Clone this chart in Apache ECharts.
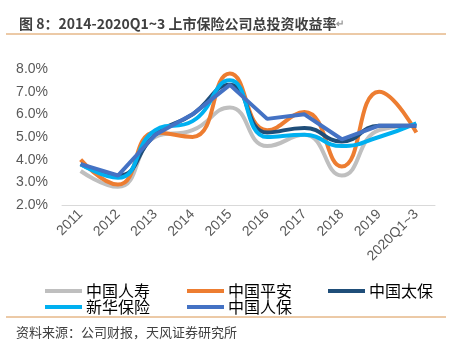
<!DOCTYPE html>
<html>
<head>
<meta charset="utf-8">
<script src="https://cdn.jsdelivr.net/npm/echarts@6/dist/echarts.min.js"></script>
<style>
  html, body { margin: 0; padding: 0; background: #fff; }
  #chart { width: 467px; height: 351px; }
</style>
</head>
<body>
<div id="chart"></div>
<script>
// categories and series (investment yield, %)
const years = ['2011', '2012', '2013', '2014', '2015', '2016', '2017', '2018', '2019', '2020Q1~3'];
const chinaLife = [3.5, 2.8, 5.0, 5.3, 6.3, 4.6, 5.1, 3.3, 5.3, 5.5];
const pingAn = [4.0, 2.9, 5.2, 5.0, 7.8, 5.3, 6.1, 3.7, 7.0, 5.2];
const cpic = [3.8, 3.3, 5.1, 6.0, 7.3, 5.2, 5.4, 4.8, 5.5, 5.5];
const newChina = [3.8, 3.2, 5.3, 5.7, 7.5, 5.0, 5.1, 4.6, 5.0, 5.6];
const picc = [3.8, 3.3, 5.1, 6.0, 7.3, 5.8, 6.0, 4.9, 5.5, 5.5];
const yTicks = [2, 3, 4, 5, 6, 7, 8];

const names = ['中国人寿', '中国平安', '中国太保', '新华保险', '中国人保'];
const colors = ['#BFBFBF', '#ED7D31', '#1F4E79', '#00B0F0', '#4472C4'];
const values = [chinaLife, pingAn, cpic, newChina, picc];

const chart = echarts.init(document.getElementById('chart'));

// one legend per item so they sit on the 3-column grid of the original
const legendPos = [[40, 278], [182, 278], [323, 278], [40, 294], [182, 294]];
const legends = names.map((n, i) => ({
  data: [n],
  left: legendPos[i][0],
  top: legendPos[i][1],
  icon: 'rect',
  itemWidth: 37,
  itemHeight: 4,
  itemGap: 0,
  selectedMode: false,
  textStyle: {
    fontSize: 16,
    color: '#000',
    padding: [0, 0, 0, -1],
    fontFamily: 'Noto Sans CJK SC',
  },
}));

const series = names.map((n, i) => ({
  name: n,
  type: 'line',
  data: values[i],
  smooth: i === 4 ? false : 0.5,
  symbol: 'none',
  lineStyle: { width: 4, color: colors[i] },
  itemStyle: { color: colors[i] },
}));

const option = {
  animation: false,
  title: {
    text: '{t|图 8：2014-2020Q1~3 上市保险公司总投资收益率}{m|↵}',
    left: 14,
    top: 12,
    textStyle: {
      rich: {
        t: { fontSize: 14, fontWeight: 'bold', color: '#404040', fontFamily: 'Noto Sans CJK SC' },
        m: { fontSize: 10, color: '#999' },
      },
    },
  },
  legend: legends,
  grid: { left: 62, right: 32, top: 69, bottom: 146, containLabel: false },
  xAxis: {
    type: 'category',
    data: years,
    boundaryGap: true,
    axisLine: { lineStyle: { color: '#D9D9D9', width: 1 } },
    axisTick: { show: false },
    axisLabel: {
      rotate: 45,
      margin: 7,
      fontSize: 14,
      color: '#595959',
      fontFamily: 'Liberation Sans',
      interval: 0,
    },
  },
  yAxis: {
    type: 'value',
    min: yTicks[0],
    max: yTicks[yTicks.length - 1],
    interval: 1,
    axisLine: { show: false },
    axisTick: { show: false },
    splitLine: { show: false },
    axisLabel: {
      margin: 14,
      fontSize: 14,
      color: '#595959',
      fontFamily: 'Liberation Sans',
      formatter: (v) => v.toFixed(1) + '%',
    },
  },
  graphic: [
    { type: 'line', shape: { x1: 6, y1: 34, x2: 446, y2: 34 }, style: { stroke: '#D9944F', lineWidth: 1 } },
    { type: 'line', shape: { x1: 6, y1: 317, x2: 446, y2: 317 }, style: { stroke: '#D9944F', lineWidth: 1 } },
    {
      type: 'text',
      left: 16,
      top: 326,
      style: {
        text: '资料来源：公司财报，天风证券研究所',
        fontSize: 13,
        fill: '#404040',
        fontFamily: 'Noto Sans CJK SC',
      },
    },
  ],
  series: series,
};

chart.setOption(option);
</script>
</body>
</html>
